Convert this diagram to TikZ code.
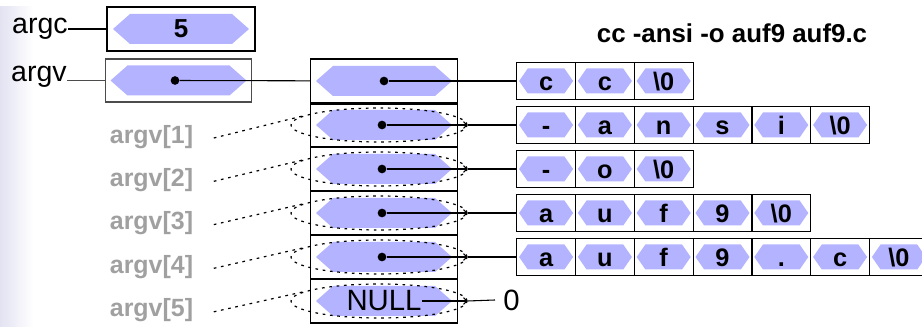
\documentclass[tikz,border=0pt]{standalone}
\usepackage{fontspec}
\setmainfont{Liberation Sans}
\usetikzlibrary{shapes.geometric,positioning,calc,arrows.meta}
\definecolor{hexblue}{RGB}{179,179,255}
\definecolor{labelgray}{RGB}{160,160,160}
\definecolor{bglav}{RGB}{226,226,242}

\tikzset{
  hexa/.style={inner sep=0pt, path picture={
    \fill[hexblue] (path picture bounding box.west)
      -- ([xshift=#1]path picture bounding box.north west)
      -- ([xshift=-#1]path picture bounding box.north east)
      -- (path picture bounding box.east)
      -- ([xshift=-#1]path picture bounding box.south east)
      -- ([xshift=#1]path picture bounding box.south west) -- cycle;}},
  bighex/.style={hexa=12.75pt, minimum width=102pt, minimum height=22.5pt},
  charhex/.style={hexa=6.5pt, minimum width=40.5pt, minimum height=18.75pt,
    font=\fontsize{19}{20}\selectfont\bfseries, text height=13.6pt, text depth=0pt},
  varbox/.style={draw, line width=0.9pt, minimum width=111pt, minimum height=33pt, inner sep=0pt},
  arrcell/.style={draw, line width=0.9pt, minimum width=110pt, minimum height=33pt, inner sep=0pt},
  charcell/.style={draw, line width=0.9pt, minimum width=44.1pt, minimum height=27.5pt, inner sep=0pt},
  dot/.style={circle, fill=black, minimum size=6.5pt, inner sep=0pt},
  oval/.style={ellipse, draw, line width=0.9pt, dash pattern=on 2pt off 3.5pt,
    minimum width=132pt, minimum height=25.5pt, inner sep=0pt},
  idxlabel/.style={font=\fontsize{18.7}{20}\selectfont\bfseries, text=labelgray},
  varlabel/.style={font=\fontsize{21.4}{22}\selectfont},
  dotline/.style={line width=0.9pt, dash pattern=on 2pt off 3.5pt},
  ptr/.style={line width=0.8pt},
}

\begin{document}
\begin{tikzpicture}[x=0.75pt, y=-0.75pt]
\useasboundingbox (0,0) rectangle (922,327);
\clip (0,0) rectangle (922,327);
% background band on the left
\shade[left color=bglav, right color=white] (0,7) rectangle (33,327);

% argc
\node[varbox] (argcbox) at (181,29) {};
\node[bighex, font=\fontsize{19.5}{20}\selectfont\bfseries] (argchex) at (argcbox) {5};
\node[varlabel, anchor=east, inner sep=0pt] (argc) at (68,29) {argc};
\draw[ptr] (argc) -- (argcbox);

% argv
\node[varbox, draw=black!70, minimum width=110pt, minimum height=32.25pt] (argvbox) at (178.5,80.5) {};
\node[bighex] (argvhex) at (argvbox) {};
\node[dot] (argvdot) at (175,80.5) {};
\node[varlabel, anchor=east, inner sep=0pt] (argv) at (67,77) {argv};
\draw[ptr, black!70] (argv.east |- argvbox) -- (argvbox);

% title
\node[font=\fontsize{19.4}{20}\selectfont\bfseries] (cmd) at (732,33) {cc -ansi -o auf9 auf9.c};

% pointer array
\foreach \i/\y in {0/81,1/125,2/169,3/213,4/257,5/301} {
  \node[arrcell] (a\i) at (384,\y) {};
  \node[bighex] (h\i) at (384,\y) {};
}
\draw[line width=1.4pt] (a0.south west) -- (a0.south east);
\draw[ptr] (argvdot) -- (a0);

% strings
\foreach \r/\y/\chars in {0/81/{c,c,\textbackslash0},
    1/125/{-,a,n,s,i,\textbackslash0},
    2/169/{-,o,\textbackslash0},
    3/213/{a,u,f,9,\textbackslash0},
    4/257/{a,u,f,9,.,c,\textbackslash0}} {
  \foreach \ch [count=\c from 0] in \chars {
    \node[charcell] (s\r-\c) at ({546.1+58.8*\c},\y) {};
    \node[charhex] at (s\r-\c) {\ch};
  }
}

% pointers
\node[dot] (d0) at (384,81) {};
\draw[ptr] (d0) -- (s0-0.west);
\foreach \i/\y/\r in {1/125/1,2/169/2,3/213/3,4/257/4} {
  \node[oval] (e\i) at (379,\y) {};
  \node[dot] (d\i) at (382,\y) {};
  \draw[ptr, -{Straight Barb[length=2.5pt,width=5pt]}] (d\i) -- (e\i.east);
  \draw[ptr] (e\i.east) -- (s\r-0.west);
}
\node[oval] (e5) at (379,301) {};
\node[font=\fontsize{22}{22}\selectfont, inner sep=0pt] (null) at (384,301) {NULL};
\node[font=\fontsize{22}{22}\selectfont, anchor=west, inner sep=0pt] (zero) at (503,300) {0};
\draw[ptr, -{Straight Barb[length=2.5pt,width=5pt]}] (null.east) -- (e5.east);
\draw[ptr] (e5.east) -- ([xshift=-6pt]zero.west);

% argv[i] labels
\foreach \i/\y in {1/136.7,2/180,3/223.3,4/267,5/310.5} {
  \node[idxlabel] (l\i) at (151.5,\y) {argv[\i]};
  \draw[dotline] ([xshift=12pt,yshift=-1pt]l\i.east) -- (e\i.173);
}
\end{tikzpicture}
\end{document}
